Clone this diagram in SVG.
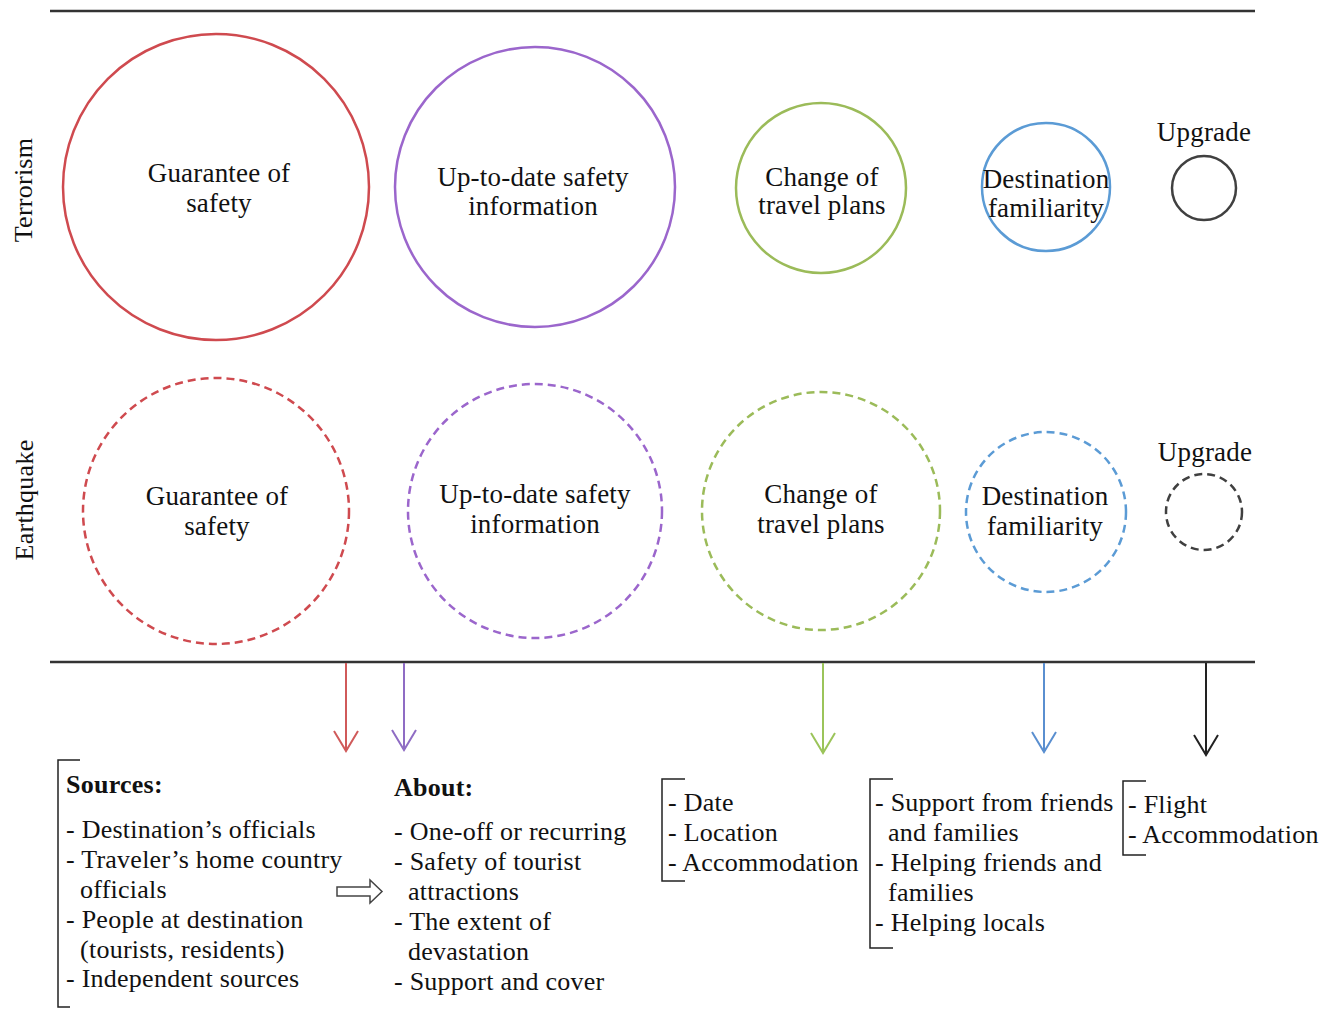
<svg xmlns="http://www.w3.org/2000/svg" width="1331" height="1009" viewBox="0 0 1331 1009">
<style>
text{font-family:"Liberation Serif","Times New Roman",serif;font-size:26px;fill:#111;letter-spacing:0.25px;}
.c{text-anchor:middle;}
.n{font-size:27px;letter-spacing:0.2px;}
.b{font-weight:bold;}
.circ{fill:none;stroke-width:2.5;}
.dash{stroke-dasharray:8 5;}
.red{stroke:#cf4a4f;}
.pur{stroke:#9b66cc;}
.grn{stroke:#9bbb59;}
.blu{stroke:#5b9bd5;}
.blk{stroke:#404040;}
.rule{stroke:#333;stroke-width:2.5;}
.arr{fill:none;stroke-width:2;}
.brk{fill:none;stroke:#222;stroke-width:1.5;}
</style>
<g id="rules">
<line class="rule" x1="50" y1="11" x2="1255" y2="11"/>
<line class="rule" x1="50" y1="662" x2="1255" y2="662"/>
</g>
<g id="row-labels">
<text class="c" transform="translate(32,190) rotate(-90)">Terrorism</text>
<text class="c" transform="translate(33,500) rotate(-90)">Earthquake</text>
</g>
<g id="t-guarantee"><circle class="circ red" cx="216" cy="187" r="153"/><text class="c n" x="219" y="182">Guarantee of</text><text class="c n" x="219" y="212">safety</text></g>
<g id="t-uptodate"><circle class="circ pur" cx="535" cy="187" r="140"/><text class="c n" x="533" y="186">Up-to-date safety</text><text class="c n" x="533" y="215">information</text></g>
<g id="t-change"><circle class="circ grn" cx="821" cy="188" r="85"/><text class="c n" x="822" y="186">Change of</text><text class="c n" x="822" y="214">travel plans</text></g>
<g id="t-destination"><circle class="circ blu" cx="1046" cy="187" r="64"/><text class="c n" x="1046" y="188">Destination</text><text class="c n" x="1046" y="217">familiarity</text></g>
<g id="t-upgrade"><circle class="circ blk" cx="1204" cy="188" r="32"/><text class="c n" x="1204" y="141">Upgrade</text></g>
<g id="e-guarantee"><circle class="circ dash red" cx="216" cy="511" r="133"/><text class="c n" x="217" y="505">Guarantee of</text><text class="c n" x="217" y="535">safety</text></g>
<g id="e-uptodate"><circle class="circ dash pur" cx="535" cy="511" r="127"/><text class="c n" x="535" y="503">Up-to-date safety</text><text class="c n" x="535" y="533">information</text></g>
<g id="e-change"><circle class="circ dash grn" cx="821" cy="511" r="119"/><text class="c n" x="821" y="503">Change of</text><text class="c n" x="821" y="533">travel plans</text></g>
<g id="e-destination"><circle class="circ dash blu" cx="1046" cy="512" r="80"/><text class="c n" x="1045" y="505">Destination</text><text class="c n" x="1045" y="535">familiarity</text></g>
<g id="e-upgrade"><circle class="circ dash blk" cx="1204" cy="512" r="38"/><text class="c n" x="1205" y="461">Upgrade</text></g>
<g id="connectors">
<path class="arr" stroke="#d05a5a" d="M346 663V751M334 731L346 751L358 731"/>
<path class="arr" stroke="#8f6cc4" d="M404 663V750M392 730L404 750L416 730"/>
<path class="arr" stroke="#9bc45a" d="M823 663V753M811 733L823 753L835 733"/>
<path class="arr" stroke="#5a8fd0" d="M1044 663V752M1032 732L1044 752L1056 732"/>
<path class="arr" stroke="#222" d="M1206 663V755M1194 735L1206 755L1218 735"/>
<path fill="#fff" stroke="#444" stroke-width="1.5" d="M337 887H370V880L382 891.5L370 903V896H337Z"/>
</g>
<g id="sources">
<path class="brk" d="M80 760H58V1007H70"/>
<text class="b" x="66" y="793">Sources:</text>
<text x="66" y="838">- Destination’s officials</text>
<text x="66" y="868">- Traveler’s home country</text>
<text x="80" y="898">officials</text>
<text x="66" y="928">- People at destination</text>
<text x="80" y="958">(tourists, residents)</text>
<text x="66" y="987">- Independent sources</text>
</g>
<g id="about">
<text class="b" x="394" y="796">About:</text>
<text x="394" y="840">- One-off or recurring</text>
<text x="394" y="870">- Safety of tourist</text>
<text x="408" y="900">attractions</text>
<text x="394" y="930">- The extent of</text>
<text x="408" y="960">devastation</text>
<text x="394" y="990">- Support and cover</text>
</g>
<g id="change-list">
<path class="brk" d="M685 779H662V881H685"/>
<text x="668" y="811">- Date</text>
<text x="668" y="841">- Location</text>
<text x="668" y="871">- Accommodation</text>
</g>
<g id="familiarity-list">
<path class="brk" d="M893 779H870V948H893"/>
<text x="875" y="811">- Support from friends</text>
<text x="888" y="841">and families</text>
<text x="875" y="871">- Helping friends and</text>
<text x="888" y="901">families</text>
<text x="875" y="931">- Helping locals</text>
</g>
<g id="upgrade-list">
<path class="brk" d="M1146 781H1123V855H1146"/>
<text x="1128" y="813">- Flight</text>
<text x="1128" y="843">- Accommodation</text>
</g>
</svg>
